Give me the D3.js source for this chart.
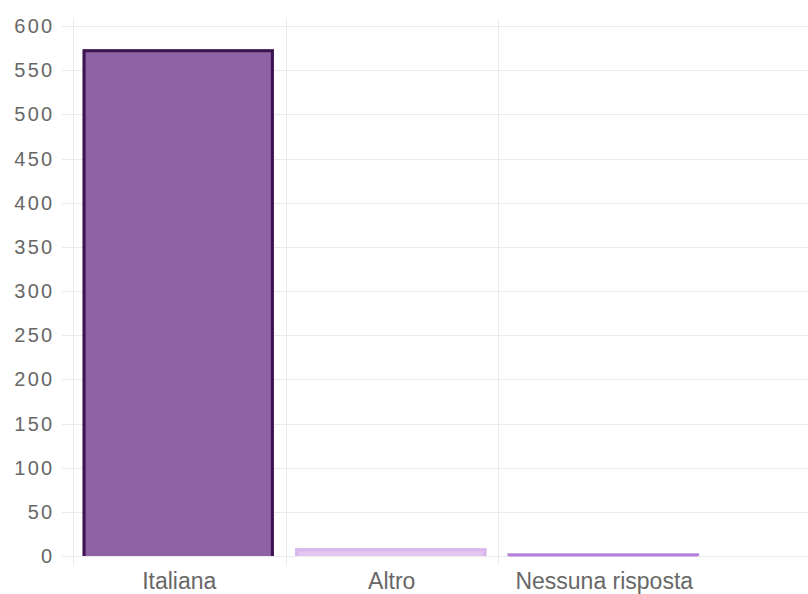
<!DOCTYPE html>
<html>
<head>
<meta charset="utf-8">
<script src="https://cdn.jsdelivr.net/npm/d3@7"></script>
<style>
html,body{margin:0;padding:0;background:#fff;}
svg{display:block;}
text{font-family:"Liberation Sans","Helvetica Neue",Arial,sans-serif;fill:#676767;}
</style>
</head>
<body>
<svg id="chart" width="808" height="594"></svg>
<script>
const categories = ["Italiana", "Altro", "Nessuna risposta"];
const values = [572, 7, 1];
const fills = ["#8e63a6", "#e3c6ef", "#b67fd8"];
const strokes = ["#3d1450", "#d9b6e9", "#b67fd8"];
const yTicks = [0, 50, 100, 150, 200, 250, 300, 350, 400, 450, 500, 550, 600];

(function () {
const svg = d3.select("#chart");
const W = 808;
const plotLeft = 73, plotTop = 26, plotBottom = 556;

const x = d3.scaleBand().domain(categories).range([plotLeft, 710.5]).padding(0);
const y = d3.scaleLinear().domain([0, 600]).range([plotBottom, plotTop]);

const grid = "#ebebeb";

// horizontal gridlines + tick marks
svg.append("g").selectAll("line").data(yTicks).join("line")
  .attr("x1", 62).attr("x2", W)
  .attr("y1", d => Math.round(y(d)) + 0.5).attr("y2", d => Math.round(y(d)) + 0.5)
  .attr("stroke", grid).attr("stroke-width", 1);

// vertical gridlines at category starts
svg.append("g").selectAll("line").data(categories).join("line")
  .attr("x1", d => Math.round(x(d)) + 0.5).attr("x2", d => Math.round(x(d)) + 0.5)
  .attr("y1", 18).attr("y2", 566)
  .attr("stroke", grid).attr("stroke-width", 1);

// y tick labels
svg.append("g").selectAll("text").data(yTicks).join("text")
  .attr("x", 54.5).attr("y", d => y(d))
  .attr("dy", "0.35em")
  .attr("text-anchor", "end")
  .style("font-size", "20px")
  .style("letter-spacing", "2.3px")
  .text(d => d);

// bars (border skipped at the bottom, like Chart.js)
const bw = x.bandwidth() * 0.9;
const off = x.bandwidth() * 0.05 - 1;
const bars = svg.append("g").selectAll("g").data(categories).join("g");
bars.append("rect")
  .attr("x", d => x(d) + off)
  .attr("width", bw)
  .attr("y", (d, i) => y(values[i]) - 1.5)
  .attr("height", (d, i) => y(0) - y(values[i]) + 1.5)
  .attr("fill", (d, i) => fills[i]);
bars.append("path")
  .attr("d", (d, i) => {
    const x0 = x(d) + off + 1.5, x1 = x(d) + off + bw - 1.5;
    const yt = y(values[i]), yb = y(0);
    return `M${x0},${yb}V${yt}H${x1}V${yb}`;
  })
  .attr("fill", "none")
  .attr("stroke", (d, i) => strokes[i])
  .attr("stroke-width", 3);

// x labels
svg.append("g").selectAll("text").data(categories).join("text")
  .attr("x", d => x(d) + x.bandwidth() / 2)
  .attr("y", 589)
  .attr("text-anchor", "middle")
  .style("font-size", "23px")
  .text(d => d);
})();
</script>
</body>
</html>
